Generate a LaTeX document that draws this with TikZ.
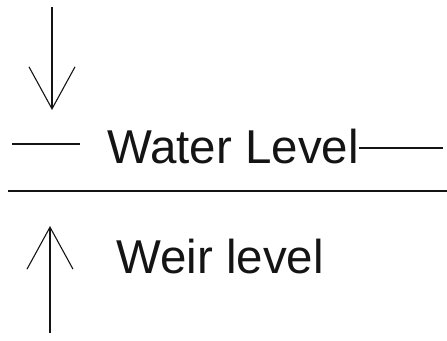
\documentclass[tikz,border=0pt]{standalone}
\usepackage{fontspec}
\setmainfont{Liberation Sans}
\usepackage{xcolor}
\definecolor{InkBlack}{RGB}{20, 20, 20}
\usetikzlibrary{arrows.meta, positioning}
\tikzset{
    levelline/.style={InkBlack, line width=1.1pt},
    levelarrow/.style={InkBlack, line width=1.1pt, -{Straight Barb[length=42pt, width=46pt, line width=1.1pt]}},
    leveltext/.style={text=InkBlack, inner sep=0pt, anchor=base west, font=\fontsize{47.5}{57}\selectfont}
}
\begin{document}
\begin{tikzpicture}[x=1pt, y=-1pt]

    \useasboundingbox (0,0) rectangle (447,340);

    %Water
    \coordinate (downstart) at (52,7);
    \coordinate (downtip) at (52,110);
    \draw[levelarrow] (downstart) -- (downtip);
    \coordinate (shortleft) at (12,144);
    \coordinate (shortright) at (80,144);
    \draw[levelline] (shortleft) -- (shortright);
    \node[leveltext] (water) at (107,163) {Water Level};
    \coordinate (waterend) at (443,148);
    \draw[levelline] (water.east |- waterend) -- (waterend);

    %Weir
    \coordinate (weirleft) at (8,191);
    \coordinate (weirright) at (447,191);
    \draw[levelline] (weirleft) -- (weirright);
    \coordinate (upstart) at (50,333);
    \coordinate (uptip) at (50,226);
    \draw[levelarrow] (upstart) -- (uptip);
    \node[leveltext] (weir) at (116,273) {Weir level};

\end{tikzpicture}
\end{document}
